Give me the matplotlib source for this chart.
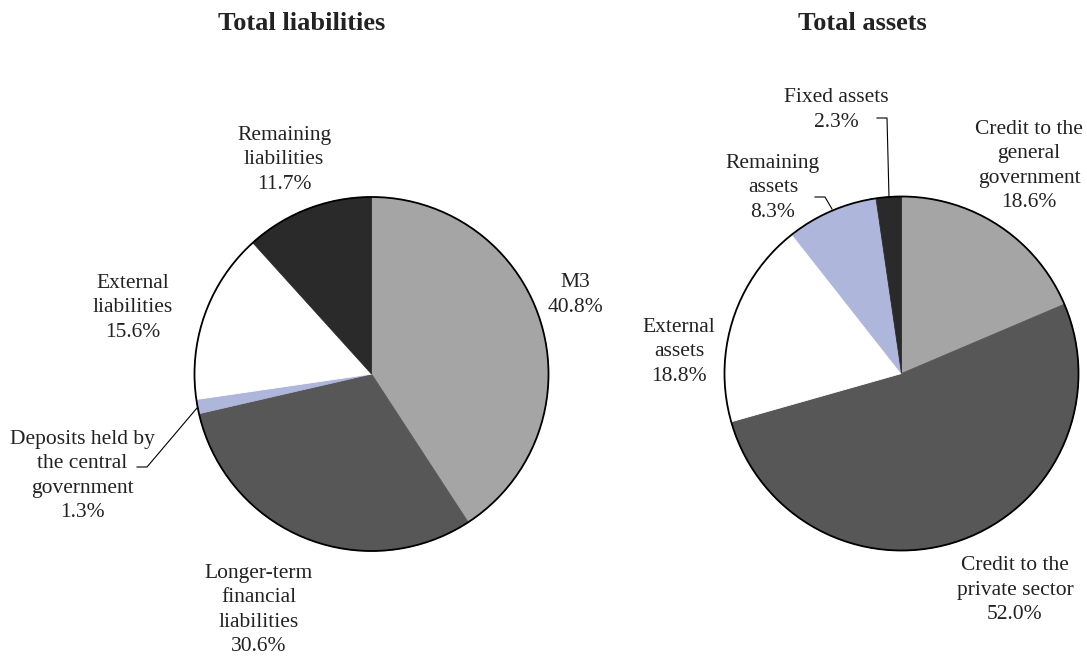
import matplotlib.pyplot as plt
from matplotlib.patches import Circle

plt.rcParams['font.family'] = ['Liberation Serif', 'DejaVu Serif']

# Data (shares in %)
liab_labels = ['M3', 'Longer-term\nfinancial\nliabilities', 'Deposits held by\nthe central\ngovernment',
               'External\nliabilities', 'Remaining\nliabilities']
liab_values = [40.8, 30.6, 1.3, 15.6, 11.7]

asset_labels = ['Credit to the\ngeneral\ngovernment', 'Credit to the\nprivate sector', 'External\nassets',
                'Remaining\nassets', 'Fixed assets']
asset_values = [18.6, 52.0, 18.8, 8.3, 2.3]

slice_colors = ['#A5A5A5', '#575757', '#AEB7DB', '#FFFFFF', '#2A2A2A']
asset_colors = ['#A5A5A5', '#575757', '#FFFFFF', '#AEB7DB', '#2A2A2A']

W, H = 1087, 656
fig = plt.figure(figsize=(W / 100, H / 100), dpi=100)
ax = fig.add_axes([0, 0, 1, 1])


def Y(py):
    return H - py


def draw_pie(values, colors, cx, cy, r):
    wedges, _ = ax.pie(values, colors=colors, startangle=90, counterclock=False,
                       center=(cx, Y(cy)), radius=r, wedgeprops=dict(linewidth=0.6))
    for w in wedges:
        w.set_edgecolor(w.get_facecolor())
    ax.add_patch(Circle((cx, Y(cy)), r, fill=False, edgecolor='black', lw=1.3, zorder=5))


draw_pie(liab_values, slice_colors, 371.5, 374, 177)
draw_pie(asset_values, asset_colors, 901.5, 373.5, 177)

txt = dict(fontsize=15.5, ha='center', va='center', linespacing=1.37, color='#222222')

# left labels: (label, value, x, y of block centre)
left_pos = [(575, 295), (259, 610), (82, 476), (133, 308), (284, 160)]
for lab, val, (x, y) in zip(liab_labels, liab_values, left_pos):
    ax.text(x, Y(y), f'{lab}\n{val:.1f}%', **txt)

right_pos = [(1029, 166), (1015, 590), (679, 352), (773, 188), (836, 110)]
for lab, val, (x, y) in zip(asset_labels, asset_values, right_pos):
    ax.text(x, Y(y), f'{lab}\n{val:.1f}%', **txt)

# leader lines
ax.plot([137, 147, 197], [Y(467), Y(467), Y(408)], color='black', lw=0.8)
ax.plot([877, 887, 889], [Y(118), Y(118), Y(197)], color='black', lw=0.8)
ax.plot([815, 825, 832], [Y(197), Y(197), Y(209)], color='black', lw=0.8)

ax.text(302, Y(23), 'Total liabilities', fontsize=19, fontweight='bold', ha='center', va='center',
        color='#222222')
ax.text(862, Y(23), 'Total assets', fontsize=19, fontweight='bold', ha='center', va='center',
        color='#222222')

ax.set_xlim(0, W)
ax.set_ylim(0, H)
ax.set_aspect('equal')
ax.axis('off')

fig.savefig('out.png', dpi=100, facecolor='white')
